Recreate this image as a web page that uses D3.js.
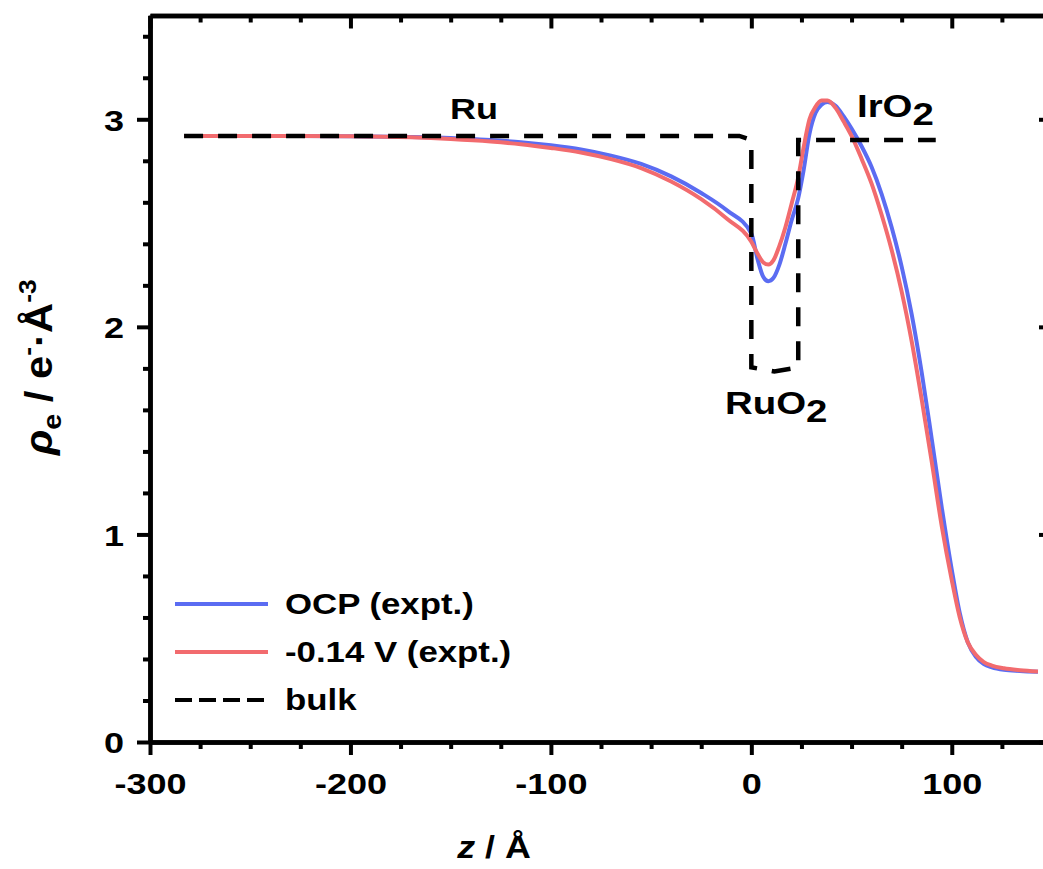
<!DOCTYPE html>
<html>
<head>
<meta charset="utf-8">
<script src="https://cdn.jsdelivr.net/npm/d3@7"></script>
<style>
  body { margin: 0; background: #fff; }
  text { font-family: "Liberation Sans", Arial, sans-serif; font-weight: bold; fill: #000; }
</style>
</head>
<body>
<script>
// data
var zValues = [-283, -250, -200, -170, -150, -130, -115, -100, -85, -70, -55, -40, -25, -12, 0,
    3, 6, 8.5, 11, 14, 17, 20, 23.4, 26, 29, 32, 35, 38, 42, 46, 50, 55, 60, 65, 70, 75, 80,
    85, 90, 95, 100, 104, 108, 112, 116, 120, 126, 134, 143];
var ocpRho = [2.92, 2.92, 2.918, 2.915, 2.91, 2.90, 2.89, 2.875, 2.855, 2.825, 2.785, 2.725, 2.645, 2.56, 2.45,
    2.33, 2.24, 2.22, 2.235, 2.30, 2.40, 2.51, 2.62, 2.75, 2.93, 3.03, 3.07, 3.083, 3.065, 3.015, 2.955, 2.87, 2.77, 2.64, 2.48, 2.29, 2.06,
    1.78, 1.46, 1.13, 0.83, 0.62, 0.48, 0.41, 0.375, 0.36, 0.348, 0.342, 0.338];
var negRho = [2.92, 2.92, 2.918, 2.913, 2.905, 2.893, 2.88, 2.862, 2.84, 2.808, 2.765, 2.70, 2.615, 2.52, 2.41,
    2.355, 2.31, 2.30, 2.32, 2.39, 2.48, 2.59, 2.72, 2.86, 3.00, 3.06, 3.09, 3.09, 3.055, 2.99, 2.92, 2.81, 2.69, 2.54, 2.37, 2.17, 1.93,
    1.65, 1.35, 1.04, 0.78, 0.60, 0.48, 0.42, 0.385, 0.368, 0.355, 0.346, 0.34];
var bulkZ = [-283, -6, 0, 0, 11.5, 23.4, 23.4, 92];
var bulkRho = [2.92, 2.92, 2.90, 1.805, 1.785, 1.805, 2.90, 2.90];

var xTicks = [-300, -200, -100, 0, 100];
var yTicks = [0, 1, 2, 3];
var legendLabels = ["OCP (expt.)", "-0.14 V (expt.)", "bulk"];

// set up variables
var width = 1043, height = 869,
    margin = {top: 15.5, left: 150, bottom: 742, right: 1052},
    blue = "#5b6cf2", red = "#f26b6e",
    sx = 1.2; // text in the picture is a bit wide

var figure = d3.select("body")
    .append("svg")
    .attr("width", width)
    .attr("height", height);

var x = d3.scaleLinear().domain([-300, 150]).range([margin.left, margin.right]);
var y = d3.scaleLinear().domain([0, 3.5]).range([margin.bottom, margin.top]);

var xMinor = d3.range(-300, 151, 25).filter(function(d) { return d % 100 !== 0; });
var yMinor = d3.range(0, 3.5, 0.2).map(function(d) { return +d.toFixed(1); })
    .filter(function(d) { return Math.abs(d - Math.round(d)) > 1e-6; });
var plainFormat = function(d) { return String(d); };

function styleAxis(g) {
    g.select(".domain").attr("stroke", "#000").attr("stroke-width", 4.5);
    g.selectAll(".tick line").attr("stroke", "#000").attr("stroke-width", 4);
}

// bottom axis
figure.append("g")
    .attr("transform", "translate(0," + margin.bottom + ")")
    .call(d3.axisBottom(x).tickValues(xMinor).tickSize(7).tickSizeOuter(0).tickFormat(""))
    .call(styleAxis);
var bottomAxis = figure.append("g")
    .attr("transform", "translate(0," + margin.bottom + ")")
    .call(d3.axisBottom(x).tickValues(xTicks).tickSize(13).tickSizeOuter(0).tickFormat(plainFormat))
    .call(styleAxis);
bottomAxis.selectAll("text")
    .attr("y", 31).attr("dy", "0.71em")
    .attr("font-size", 30)
    .attr("transform", "scale(" + sx + ",1)");

// top axis, ticks inward
figure.append("g")
    .attr("transform", "translate(0," + margin.top + ")")
    .call(d3.axisBottom(x).tickValues(xMinor).tickSize(7).tickSizeOuter(0).tickFormat(""))
    .call(styleAxis);
figure.append("g")
    .attr("transform", "translate(0," + margin.top + ")")
    .call(d3.axisBottom(x).tickValues(xTicks).tickSize(13).tickSizeOuter(0).tickFormat(""))
    .call(styleAxis);

// left axis
figure.append("g")
    .attr("transform", "translate(" + margin.left + ",0)")
    .call(d3.axisLeft(y).tickValues(yMinor).tickSize(7).tickSizeOuter(0).tickFormat(""))
    .call(styleAxis);
var leftAxis = figure.append("g")
    .attr("transform", "translate(" + margin.left + ",0)")
    .call(d3.axisLeft(y).tickValues(yTicks).tickSize(13).tickSizeOuter(0).tickFormat(plainFormat))
    .call(styleAxis);
leftAxis.selectAll("text")
    .attr("x", -26 / sx).attr("dy", "0.36em")
    .attr("font-size", 30)
    .attr("transform", "scale(" + sx + ",1)");

// right axis, ticks inward
figure.append("g")
    .attr("transform", "translate(" + margin.right + ",0)")
    .call(d3.axisLeft(y).tickValues(yMinor).tickSize(7).tickSizeOuter(0).tickFormat(""))
    .call(styleAxis);
figure.append("g")
    .attr("transform", "translate(" + margin.right + ",0)")
    .call(d3.axisLeft(y).tickValues(yTicks).tickSize(13).tickSizeOuter(0).tickFormat(""))
    .call(styleAxis);

// the curves
var line = d3.line()
    .x(function(d) { return x(d[0]); })
    .y(function(d) { return y(d[1]); })
    .curve(d3.curveMonotoneX);
var bulkLine = d3.line()
    .x(function(d) { return x(d[0]); })
    .y(function(d) { return y(d[1]); });

figure.append("path")
    .datum(d3.zip(zValues, ocpRho))
    .attr("fill", "none").attr("stroke", blue).attr("stroke-width", 4)
    .attr("d", line);
figure.append("path")
    .datum(d3.zip(zValues, negRho))
    .attr("fill", "none").attr("stroke", red).attr("stroke-width", 4)
    .attr("d", line);
figure.append("path")
    .datum(d3.zip(bulkZ, bulkRho))
    .attr("fill", "none").attr("stroke", "#000").attr("stroke-width", 4.5)
    .attr("stroke-dasharray", "19,15")
    .attr("d", bulkLine);

// annotations
function wideText(px, py, size) {
    return figure.append("text")
        .attr("transform", "translate(" + px + "," + py + ") scale(" + sx + ",1)")
        .attr("font-size", size);
}
wideText(450, 119, 30).text("Ru");
var ir = wideText(857, 117, 32);
ir.append("tspan").text("IrO");
ir.append("tspan").attr("dy", 8).text("2");
var ru = wideText(725, 414, 32);
ru.append("tspan").text("RuO");
ru.append("tspan").attr("dy", 8).text("2");

// legend
var legendColors = [blue, red, "#000"];
legendLabels.forEach(function(label, i) {
    var ly = 604 + i * 48;
    figure.append("line")
        .attr("x1", 175).attr("x2", 268)
        .attr("y1", ly).attr("y2", ly)
        .attr("stroke", legendColors[i])
        .attr("stroke-width", 4)
        .attr("stroke-dasharray", i === 2 ? "17,7" : null);
    wideText(285, ly + 10, 29).text(label);
});

// axis titles
var xt = figure.append("text")
    .attr("transform", "translate(494,858) scale(1.12,1)")
    .attr("text-anchor", "middle")
    .attr("font-size", 32);
xt.append("tspan").attr("font-style", "italic").text("z");
xt.append("tspan").text(" / Å");

var yt = figure.append("text")
    .attr("transform", "translate(52,455) rotate(-90) scale(1.1,1)")
    .attr("font-size", 38);
yt.append("tspan").attr("font-style", "italic").text("ρ");
yt.append("tspan").attr("font-size", 26).attr("dy", 9).text("e");
yt.append("tspan").attr("dy", -9).text(" / e");
yt.append("tspan").attr("font-size", 24).attr("dy", -16).text("-");
yt.append("tspan").attr("dy", 16).text("·Å");
yt.append("tspan").attr("font-size", 24).attr("dy", -16).text("-3");
</script>
</body>
</html>
